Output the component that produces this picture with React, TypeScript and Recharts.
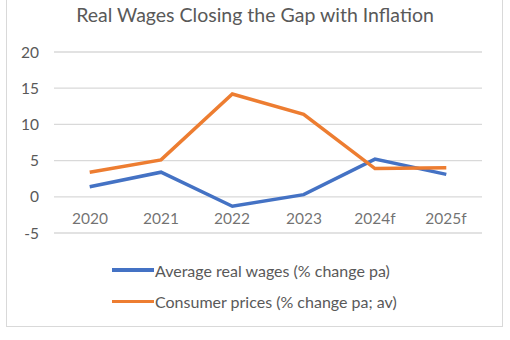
import React from "react";
import { LineChart, Line, XAxis, YAxis, CartesianGrid } from "recharts";

const categories = ["2020", "2021", "2022", "2023", "2024f", "2025f"];
const realWages = [1.4, 3.4, -1.3, 0.3, 5.2, 3.1];
const consumerPrices = [3.4, 5.1, 14.2, 11.4, 3.9, 4.0];
const yTicks = [-5, 0, 5, 10, 15, 20];
const seriesNames = ["Average real wages (% change pa)", "Consumer prices (% change pa; av)"];
const seriesColors = ["#4472C4", "#ED7D31"];
const title = "Real Wages Closing the Gap with Inflation";

const data = categories.map((c, i) => ({ cat: c, wages: realWages[i], prices: consumerPrices[i] }));

const FONT = "Lato, 'Open Sans', sans-serif";
const TEXT = "#595959";

const XTick = (props: any) => {
  const { x, y, payload } = props;
  return (
    <text x={Math.round(x)} y={Math.round(y - 9)} textAnchor="middle" fill={TEXT} fillOpacity={0.85} fontSize={15.5} fontFamily={FONT}>
      {payload.value}
    </text>
  );
};

export default function App() {
  return (
    <div style={{ position: "absolute", left: 0, top: 0, width: 510, height: 340, background: "#fff", overflow: "hidden" }}>
      <div style={{ position: "absolute", left: 6, top: -4, width: 495, height: 329, border: "1.5px solid #d9d9d9" }} />
      <div style={{ position: "absolute", left: 0, top: 3, width: 510, textAlign: "center", fontFamily: FONT, fontSize: 19.5, color: TEXT }}>
        {title}
      </div>
      <div style={{ position: "absolute", left: 0, top: 0 }}>
        <LineChart width={510} height={340} data={data} margin={{ top: 52, right: 28, bottom: 87, left: 0 }}>
          <CartesianGrid horizontal vertical={false} stroke="#d9d9d9" strokeWidth={1.3} />
          <YAxis width={54} domain={[-5, 20]} ticks={yTicks} axisLine={false} tickLine={false} tickSize={0} tickMargin={15}
            tick={{ fill: TEXT, fontSize: 15.5, fontFamily: FONT }} />
          <Line dataKey="wages" name={seriesNames[0]} stroke={seriesColors[0]} strokeWidth={3.5} dot={false} isAnimationActive={false} />
          <Line dataKey="prices" name={seriesNames[1]} stroke={seriesColors[1]} strokeWidth={3.5} dot={false} isAnimationActive={false} />
          <XAxis dataKey="cat" height={20} axisLine={false} tickLine={false} tickSize={0} tickMargin={0} interval={0}
            tick={XTick} padding={{ left: 35.7, right: 35.7 }} />
        </LineChart>
      </div>
      {seriesNames.map((n, i) => (
        <div key={n} style={{ position: "absolute", left: 112, top: 260 + i * 31.5, height: 20, display: "flex", alignItems: "center", fontFamily: FONT, fontSize: 16, color: TEXT }}>
          <span style={{ display: "inline-block", width: 42, height: 3.5, background: seriesColors[i], marginRight: 1 }} />
          {n}
        </div>
      ))}
    </div>
  );
}
